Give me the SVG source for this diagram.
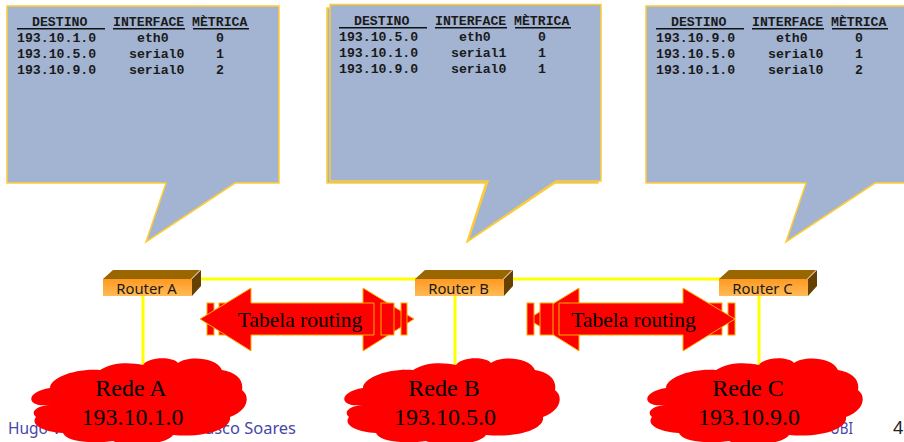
<svg xmlns="http://www.w3.org/2000/svg" xmlns:xlink="http://www.w3.org/1999/xlink" width="904" height="442" viewBox="0 0 904 442">
<style>
.co{fill:#A2B4D2;stroke:#FFCC33;stroke-width:1.5}
.t{font-family:"Liberation Mono","Courier New",monospace;font-weight:bold;font-size:13.2px;fill:#1a1a1a;white-space:pre}
.ul{stroke:#111;stroke-width:1.5}
.lnk{stroke:#FFFF00;stroke-width:3;fill:none}
.ar{fill:#FF0000;stroke:#FFB000;stroke-width:1}
.top{fill:#996600}.side{fill:#664000}
.rl{font-family:"Noto Sans","Open Sans",sans-serif;font-size:14.8px;fill:#1a1a1a;text-anchor:middle}
.big{font-family:"Liberation Serif","Times New Roman",serif;fill:#000;text-anchor:middle}
.ft{font-family:"Noto Sans","Open Sans",sans-serif;font-size:15.500px;fill:#4646A8}
</style>
<defs>
<linearGradient id="rg" x1="0" y1="0" x2="0" y2="1"><stop offset="0" stop-color="#FF9922"/><stop offset="1" stop-color="#FFBB55"/></linearGradient>
<path id="cloud" fill="#FF0000" d="M50 388C50 378 75 368 100 370C112 362 130 362 143 365C148 357 172 356 178 363C186 356 216 356 222 370C236 372 244 380 242 390C250 396 249 410 230 417C232 428 208 438 173 435C165 446 125 447 113 441C95 444 66 442 63 433C42 432 30 424 36 417C30 412 36 406 50 405C26 408 24 392 50 388Z"/>
<g id="router"><path class="top" d="M103 279L113 270H200L191 279Z"/><path class="side" d="M192 279L201 270V286L192 296Z"/><rect x="103" y="279" width="89" height="17" fill="url(#rg)"/></g>
</defs>

<g id="footer">
<text class="ft" x="8" y="434">Hugo V</text>
<text class="ft" x="205" y="434" textLength="91" lengthAdjust="spacingAndGlyphs">asco Soares</text>
<text class="ft" x="830" y="434" textLength="23" lengthAdjust="spacingAndGlyphs">UBI</text>
<text x="893" y="434" font-family="Noto Sans,Open Sans,sans-serif" font-size="18px" fill="#222">4</text>
</g>

<g id="connectors">
<path class="lnk" d="M199 279H416M512 279H720M143 296V366M455 296V366M759 296V366"/>
</g>

<g id="table-a">
<path class="co" d="M7 6H279V183H235L146 242L166 183H7Z"/>
<path class="ul" d="M17 28.7H105M113 28.7H185M193 28.7H249"/>
<text class="t" x="32" y="25.500">DESTINO</text><text class="t" x="113" y="25.500">INTERFACE</text><text class="t" x="192" y="25.500">MÈTRICA</text>
<text class="t" x="17" y="41.500">193.10.1.0</text><text class="t" x="137" y="41.500">eth0</text><text class="t" x="216" y="41.500">0</text>
<text class="t" x="17" y="57.500">193.10.5.0</text><text class="t" x="129" y="57.500">serial0</text><text class="t" x="216" y="57.500">1</text>
<text class="t" x="17" y="73.500">193.10.9.0</text><text class="t" x="129" y="73.500">serial0</text><text class="t" x="216" y="73.500">2</text>
</g>

<g id="table-b">
<path class="co" d="M327 8H598V183H555L467 242L486 183H327Z"/>
<path class="co" d="M330 4.500H601V181H556L468 241L488 181H330Z"/>
<path class="ul" d="M339 27.700H427M435 27.700H507M515 27.700H571"/>
<text class="t" x="354" y="24.500">DESTINO</text><text class="t" x="435" y="24.500">INTERFACE</text><text class="t" x="514" y="24.500">MÈTRICA</text>
<text class="t" x="339" y="40.500">193.10.5.0</text><text class="t" x="459" y="40.500">eth0</text><text class="t" x="538" y="40.500">0</text>
<text class="t" x="339" y="56.500">193.10.1.0</text><text class="t" x="451" y="56.500">serial1</text><text class="t" x="538" y="56.500">1</text>
<text class="t" x="339" y="72.500">193.10.9.0</text><text class="t" x="451" y="72.500">serial0</text><text class="t" x="538" y="72.500">1</text>
</g>

<g id="table-c">
<path class="co" d="M646 6H920V183H875L786 242L806 183H646Z"/>
<path class="ul" d="M656 28.700H744M752 28.700H824M832 28.700H888"/>
<text class="t" x="671" y="25.500">DESTINO</text><text class="t" x="752" y="25.500">INTERFACE</text><text class="t" x="831" y="25.500">MÈTRICA</text>
<text class="t" x="656" y="41.500">193.10.9.0</text><text class="t" x="776" y="41.500">eth0</text><text class="t" x="855" y="41.500">0</text>
<text class="t" x="656" y="57.500">193.10.5.0</text><text class="t" x="768" y="57.500">serial0</text><text class="t" x="855" y="57.500">1</text>
<text class="t" x="656" y="73.500">193.10.1.0</text><text class="t" x="768" y="73.500">serial0</text><text class="t" x="855" y="73.500">2</text>
</g>

<g id="router-a"><use href="#router" xlink:href="#router"/><text class="rl" x="146.500" y="293.500">Router A</text></g>
<g id="router-b"><use href="#router" xlink:href="#router" x="312"/><text class="rl" x="458.500" y="293.500">Router B</text></g>
<g id="router-c"><use href="#router" xlink:href="#router" x="616"/><text class="rl" x="762.500" y="293.500">Router C</text></g>

<g id="arrow-left">
<path class="ar" d="M363 288L414 319L363 351Z"/>
<rect class="ar" x="207" y="303" width="7" height="32"/><rect class="ar" x="219" y="303" width="13" height="32"/>
<rect class="ar" x="381" y="303" width="13" height="32"/><rect class="ar" x="401" y="303" width="6" height="32"/>
<path class="ar" d="M200 319L251 288V303H374V335H251V351Z"/>
<text class="big" x="300" y="327" font-size="21.500px">Tabela routing</text>
</g>

<g id="arrow-right">
<path class="ar" d="M579 288L528 319L579 351Z"/>
<rect class="ar" x="527" y="303" width="7" height="32"/><rect class="ar" x="540" y="303" width="13" height="32"/>
<rect class="ar" x="709" y="303" width="13" height="32"/><rect class="ar" x="728" y="303" width="7" height="32"/>
<path class="ar" d="M735 319L683 288V303H559V335H683V351Z"/>
<text class="big" x="633.500" y="327" font-size="21.500px">Tabela routing</text>
</g>

<g id="rede-a"><use href="#cloud" xlink:href="#cloud"/><text class="big" x="131" y="396" font-size="24px">Rede A</text><text class="big" x="132.500" y="425" font-size="24px">193.10.1.0</text></g>
<g id="rede-b"><use href="#cloud" xlink:href="#cloud" x="313"/><text class="big" x="444" y="396" font-size="24px">Rede B</text><text class="big" x="445" y="425" font-size="24px">193.10.5.0</text></g>
<g id="rede-c"><use href="#cloud" xlink:href="#cloud" x="616"/><text class="big" x="748" y="396" font-size="24px">Rede C</text><text class="big" x="749" y="425" font-size="24px">193.10.9.0</text></g>
</svg>
